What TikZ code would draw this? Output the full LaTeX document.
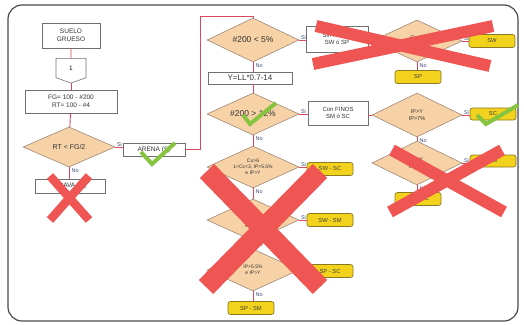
\documentclass[tikz,border=0pt]{standalone}
\usepackage{fontspec}
\setmainfont{Liberation Sans}
\usetikzlibrary{shapes.geometric,shapes.symbols}

\definecolor{frameg}{HTML}{4A4A4A}
\definecolor{boxg}{HTML}{707070}
\definecolor{peach}{HTML}{F6D2A6}
\definecolor{peachline}{HTML}{9E8878}
\definecolor{ybox}{HTML}{F2D21C}
\definecolor{yline}{HTML}{8A7A22}
\definecolor{flow}{HTML}{D8475E}
\definecolor{crossred}{HTML}{EF5552}
\definecolor{tickgreen}{HTML}{86C440}
\definecolor{lbl}{HTML}{3E4C7A}

\tikzset{
  frame/.style={draw=frameg, line width=1.2pt, rounded corners=14pt},
  procbox/.style={draw=boxg, line width=0.6pt, fill=white, inner sep=0pt, align=center,
    font=\fontsize{6.5}{7.8}\selectfont, text=black!80},
  decision/.style={diamond, draw=peachline, line width=0.6pt, fill=peach, inner sep=0pt,
    aspect=2, align=center, minimum width=92pt, minimum height=44pt, text=black!80},
  result/.style={draw=yline, line width=0.7pt, fill=ybox, rounded corners=2.5pt, inner sep=0pt,
    minimum width=46pt, minimum height=13pt, font=\fontsize{5.8}{6}\selectfont, text=black!75},
  flowline/.style={draw=flow, line width=0.9pt},
  answer/.style={font=\fontsize{5.5}{6}\selectfont, text=lbl, inner sep=0.5pt},
  cross/.style={draw=crossred, line width=#1, line cap=butt},
  tick/.style={draw=tickgreen, line width=4pt, line cap=butt, line join=miter},
  big/.style={font=\fontsize{8.5}{9}\selectfont},
  small/.style={font=\fontsize{5}{6}\selectfont},
}

\begin{document}
\begin{tikzpicture}[x=1pt,y=-1pt]
\useasboundingbox (0,0) rectangle (524,324);

% outer frame
\draw[frame] (8,5) rectangle (518,321);

% ---- left column
\node[procbox, minimum width=58pt, minimum height=25pt] (suelo) at (71,35.5) {SUELO\\GRUESO};
\node[signal, signal to=south, signal pointer angle=140, draw=boxg, line width=0.6pt, fill=white,
      inner sep=0pt, minimum width=30pt, minimum height=20pt,
      font=\fontsize{6.5}{7}\selectfont] (conn) at (71,68) {1};
\node[procbox, minimum width=92pt, minimum height=23pt] (fg) at (71,101.5) {FG= 100 - \#200\\RT= 100 - \#4};
\node[decision, minimum width=92pt, minimum height=40pt, font=\fontsize{7}{7}\selectfont] (drt) at (69,147) {RT < FG/2};
\node[procbox, minimum width=62pt, minimum height=13pt] (arena) at (154,149.5) {ARENA (S)};
\node[procbox, minimum width=70pt, minimum height=14pt] (grava) at (70,186) {GRAVA (G)};

% ---- middle column
\node[decision, big] (da) at (253,40) {\#200 < 5\%};
\node[procbox, minimum width=84pt, minimum height=12pt, font=\fontsize{8}{8}\selectfont] (yll) at (250,78) {Y=LL*0.7-14};
\node[decision, big, minimum height=42pt] (db) at (253,114) {\#200 > 12\%};
\node[decision, small, minimum height=42pt] (dc) at (253,167) {Cu>6\\1<Cc<3, IP>5.5\%\\e IP>Y};
\node[decision, small, minimum height=42pt] (dd) at (253,220) {Cu>6\\1<Cc<3\\e IP<Y};
\node[decision, small, minimum height=42pt] (de) at (253,270) {IP>5.5\%\\e IP>Y};
\node[result] (spsm) at (251,308) {SP - SM};
\node[result] (swsc) at (330,169) {SW - SC};
\node[result] (swsm) at (330,220) {SW - SM};
\node[result] (spsc) at (330,271) {SP - SC};

\node[procbox, minimum width=62pt, minimum height=26pt, font=\fontsize{6}{7.2}\selectfont] (sinf) at (337,39) {Sin FINOS\\SW ó SP};
\node[procbox, minimum width=60pt, minimum height=24pt, font=\fontsize{6}{7.2}\selectfont] (conf) at (338,113) {Con FINOS\\SM ó SC};

% ---- right column
\node[decision, minimum width=90pt, minimum height=42pt, font=\fontsize{5.5}{6.5}\selectfont] (dcu) at (417,41) {Cu>6\\1<Cc<3};
\node[result] (sw) at (492,41) {SW};
\node[result] (sp) at (418,77) {SP};
\node[decision, minimum width=90pt, font=\fontsize{5.5}{6.5}\selectfont] (dip) at (417,115) {IP>Y\\IP>7\%};
\node[result, minimum height=12pt] (sc) at (493,114) {SC};
\node[decision, minimum width=90pt, font=\fontsize{5.5}{6.5}\selectfont] (dip2) at (417,163) {IP<Y\\IP<4\%};
\node[result, minimum height=12pt] (sm) at (493,161) {SM};
\node[result] (smsc) at (418,199) {SM - SC};

% ---- connectors
\coordinate (turn) at (200,16);
\draw[flowline] (suelo) -- (conn);
\draw[flowline] (conn.south) -- (fg);
\draw[flowline] (fg) -- (drt);
\draw[flowline] (drt.east) -- (drt.east -| arena.west);
\draw[flowline] (drt.south) -- (drt.south |- grava.north);
\draw[flowline] (arena.east) -| (turn) -| (da.north);
\draw[flowline] (da.east) -- (da.east -| sinf.west);
\draw[flowline] (da.south) -- (da.south |- yll.north);
\draw[flowline] (db.north |- yll.south) -- (db.north);
\draw[flowline] (db.east) -- (db.east -| conf.west);
\draw[flowline] (db.south) -- (dc.north);
\draw[flowline] (dc.east) -- (dc.east -| swsc.west);
\draw[flowline] (dc.south) -- (dd.north);
\draw[flowline] (dd.east) -- (dd.east -| swsm.west);
\draw[flowline] (dd.south) -- (de.north);
\draw[flowline] (de.east) -- (de.east -| spsc.west);
\draw[flowline] (de.south) -- (de.south |- spsm.north);
\draw[flowline] (sinf.east |- dcu.west) -- (dcu.west);
\draw[flowline] (dcu.east) -- (dcu.east -| sw.west);
\draw[flowline] (dcu.south) -- (dcu.south |- sp.north);
\draw[flowline] (conf.east |- dip.west) -- (dip.west);
\draw[flowline] (dip.east) -- (dip.east -| sc.west);
\draw[flowline] (dip.south) -- (dip2.north);
\draw[flowline] (dip2.east) -- (dip2.east -| sm.west);
\draw[flowline] (dip2.south) -- (dip2.south |- smsc.north);

% ---- branch labels
\node[answer, anchor=south west] (a1) at ([xshift=1pt]drt.east) {Si};
\node[answer, anchor=north west] (a2) at ([xshift=2pt,yshift=-1pt]drt.south) {No};
\node[answer, anchor=south west] (a3) at ([xshift=1pt]da.east) {Si};
\node[answer, anchor=north west] (a4) at ([xshift=2pt,yshift=-1pt]da.south) {No};
\node[answer, anchor=south west] (a5) at ([xshift=1pt]db.east) {Si};
\node[answer, anchor=north west] (a6) at ([xshift=2pt,yshift=-1pt]db.south) {No};
\node[answer, anchor=south west] (a7) at ([xshift=1pt]dc.east) {Si};
\node[answer, anchor=north west] (a8) at ([xshift=2pt,yshift=-1pt]dc.south) {No};
\node[answer, anchor=south west] (a9) at ([xshift=1pt]dd.east) {Si};
\node[answer, anchor=north west] (a10) at ([xshift=2pt,yshift=-1pt]dd.south) {No};
\node[answer, anchor=south west] (a11) at ([xshift=1pt]de.east) {Si};
\node[answer, anchor=north west] (a12) at ([xshift=2pt,yshift=-1pt]de.south) {No};
\node[answer, anchor=south west] (a13) at ([xshift=1pt]dcu.east) {Si};
\node[answer, anchor=north west] (a14) at ([xshift=2pt,yshift=-1pt]dcu.south) {No};
\node[answer, anchor=south west] (a15) at ([xshift=1pt]dip.east) {Si};
\node[answer, anchor=north west] (a16) at ([xshift=2pt,yshift=-1pt]dip.south) {No};
\node[answer, anchor=south west] (a17) at ([xshift=1pt]dip2.east) {Si};
\node[answer, anchor=north west] (a18) at ([xshift=2pt,yshift=-1pt]dip2.south) {No};

% ---- crosses over rejected branches
\draw[cross=8.5pt] (50,176) -- (89,220) (89,176) -- (50,220);
\draw[cross=20pt] (207,171) -- (320,287) (320,171) -- (206,287);
\draw[cross=12pt] (313,64) -- (493,26) (316,26) -- (490,66);
\draw[cross=12pt] (392,150) -- (504,212) (502,150) -- (390,212);

% ---- ticks on accepted branches
\draw[tick] (141,152) -- (152,164) -- (175,143);
\draw[tick] (243,115) -- (250,124) -- (276,103);
\draw[tick] (477,115) -- (486,124) -- (518,105);
\end{tikzpicture}
\end{document}
